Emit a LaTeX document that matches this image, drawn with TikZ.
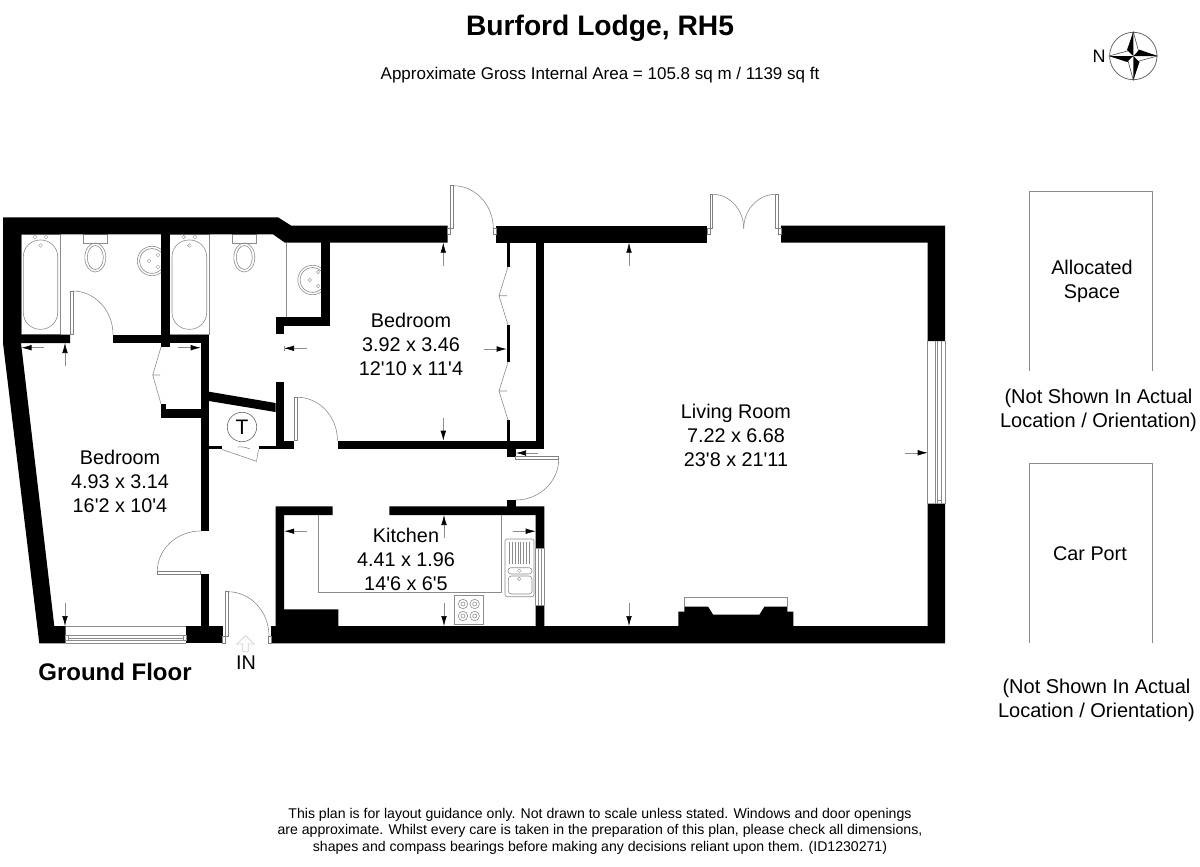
\documentclass[tikz,border=0pt]{standalone}
\usepackage{fontspec}
\setmainfont{Liberation Sans}[Ligatures=TeXOff]
\usetikzlibrary{arrows.meta,calc}
\tikzstyle{wall} = [fill=black]
\tikzstyle{fitting} = [draw=black!45, line width=0.3pt]
\tikzstyle{tap} = [draw=black!40, line width=0.2pt]
\tikzstyle{leaf} = [draw=black!50, fill=white, line width=0.3pt]
\tikzstyle{line} = [draw=black!45, line width=0.3pt, -{Latex[black,length=5pt,width=2.8pt]}]
\tikzstyle{room} = [align=center, font=\fontsize{9.9}{12}\selectfont]
\tikzstyle{note} = [align=center, font=\fontsize{10}{12.1}\selectfont]
\tikzstyle{small} = [align=center, font=\fontsize{7.05}{8.25}\selectfont]
\newcommand{\swingline}[3]{\path [fitting] (#1) .. controls ($(#1)!0.55!(#3)$) and ($(#2)!0.55!(#3)$) .. (#2);}

\begin{document}
\begin{tikzpicture}[x=0.5pt,y=-0.5pt]
\useasboundingbox (0,0) rectangle (1200,867);

\node [font=\fontsize{14.1}{16}\selectfont\bfseries] (title) at (600,28.5) {Burford Lodge, RH5};
\node [font=\fontsize{8.5}{10}\selectfont] (area) at (600,75) {Approximate Gross Internal Area = 105.8 sq m / 1139 sq ft};

\path [fitting, draw=black!60, line width=0.4pt] (1133.3,56) circle (23.7);
\node [font=\fontsize{9}{10}\selectfont] (north) at (1099,56) {N};
\path [fitting, fill=white, draw=black!70] (1133.3,32) -- (1138.5,50.8) -- (1157.3,56) -- (1138.5,61.2) -- (1133.3,80) -- (1128.1,61.2) -- (1109.3,56) -- (1128.1,50.8) -- cycle;
\path [fill=black] (1133.3,32) -- (1127,50) -- (1133.3,56) -- cycle;
\path [fill=black] (1157.3,56) -- (1139.5,49.7) -- (1133.3,56) -- cycle;
\path [fill=black] (1133.3,80) -- (1139.5,62) -- (1133.3,56) -- cycle;
\path [fill=black] (1109.3,56) -- (1127,62) -- (1133.3,56) -- cycle;

% baths, toilets, basins
\path [fitting] (21,234) rectangle (60.7,334.5);
\path [fitting, rounded corners=8.4pt] (23.3,240) rectangle (57.7,329.3);
\path [tap] (35,237) circle (1.8) (46,237) circle (1.8) (40.5,245.5) circle (1.8);
\path [fitting] (169.7,234) rectangle (209.5,334.5);
\path [fitting, rounded corners=8.4pt] (172,240) rectangle (206.7,329.3);
\path [tap] (183.7,237) circle (1.8) (195,237) circle (1.8) (189.3,245.5) circle (1.8);

\path [fitting] (83.7,234) rectangle (107.3,243);
\path [fitting] (95.3,257.5) ellipse (10.5 and 14.5) (95.3,257.5) ellipse (8 and 12);
\path [fitting] (232.7,234) rectangle (256.3,243);
\path [fitting] (244.3,257.5) ellipse (10.5 and 14.5) (244.3,257.5) ellipse (8 and 12);

\path [fitting] (152,261) circle (14.7) (152,261) circle (12.5);
\path [tap] (149,261) circle (1.8) (158,255) circle (1.8) (158,267) circle (1.8);
\path [fitting] (312.5,280) circle (14.7) (312.5,280) circle (12.5);
\path [tap] (309.7,280) circle (1.8) (318.3,272) circle (1.8) (318.3,286) circle (1.8);
\path [fitting] (286.7,243) -- (286.7,317.5);

% walls
\path [wall] (3,217.3) -- (278,217.3) -- (291,225.5) -- (447.7,225.5) -- (447.7,242.7) -- (285,242.7) -- (273,234.3) -- (21,234.3) -- (21,334.5) -- (70,334.5) -- (70,343) -- (21,343) -- (54.3,626) -- (65.6,626) -- (65.6,643.3) -- (39.3,643.3) -- (3,343) -- cycle;
\path [wall] (113,334.5) rectangle (209,343);
\path [wall] (160.7,234) rectangle (169.7,347);
\path [wall] (200.7,334.5) rectangle (209,531);
\path [wall] (200.7,574) rectangle (209,626);
\path [wall] (186,626) rectangle (222.5,643.3);
\path [wall] (161,404) rectangle (165.5,417.7);
\path [wall] (161,409) rectangle (201,417.7);
\path [wall] (209,391.7) -- (275.5,403) -- (275.5,412) -- (209,401) -- cycle;
\path [wall] (275.5,382) rectangle (284.2,449);
\path [wall] (275.5,440.7) rectangle (294.4,449);
\path [wall] (209,446) rectangle (222,449.3);
\path [wall] (258.5,446) rectangle (275.5,449.3);
\path [wall] (321,242) rectangle (330,326);
\path [wall] (275.5,317.3) rectangle (330,326);
\path [wall] (275.5,317.3) rectangle (284.2,334);

\path [wall] (496,225.7) rectangle (707.3,242.7);
\path [wall] (781,225.7) -- (945,225.7) -- (945,341) -- (927.7,341) -- (927.7,242.7) -- (781,242.7) -- cycle;
\path [wall] (927.7,503.5) -- (945,503.5) -- (945,643.3) -- (271,643.3) -- (271,626) -- (275.5,626) -- (275.5,506.3) -- (332.7,506.3) -- (332.7,515) -- (284.2,515) -- (284.2,609.3) -- (338.3,609.3) -- (338.3,626) -- (535.7,626) -- (535.7,605) -- (544.3,605) -- (544.3,626) -- (927.7,626) -- cycle;
\path [wall] (389.3,506.3) -- (544.3,506.3) -- (544.3,548) -- (535.7,548) -- (535.7,515) -- (389.3,515) -- cycle;
\path [wall] (507,500) rectangle (515.7,506.5);
\path [wall] (337.5,440.7) rectangle (544.3,449.3);
\path [wall] (535.7,242) rectangle (544.3,449);
\path [wall] (507,449) rectangle (515.7,457);
\path [wall] (506.7,242) rectangle (510,266.7);
\path [wall] (506.7,325) rectangle (510,362.3);
\path [wall] (506.7,420) rectangle (510,449);
\path [wall] (678.3,626) -- (678.3,611.7) -- (684.3,611.7) -- (684.3,606.5) -- (708,606.5) -- (713,614.5) -- (759.5,614.5) -- (764.5,606.5) -- (787.3,606.5) -- (787.3,611.7) -- (793.3,611.7) -- (793.3,626) -- cycle;
\path [fitting] (684.3,606.5) -- (684.3,597.3) -- (787.3,597.3) -- (787.3,606.5);

% doors
\path [leaf] (70,291) rectangle (72.8,334.5);
\swingline{72.8,291}{113,334.5}{113,291}
\path [leaf] (157.3,571.3) rectangle (200.7,574);
\swingline{200.7,531}{157.3,571.3}{157.3,531}
\path [leaf] (225.7,591.7) rectangle (228,636);
\path [leaf] (222.5,636) rectangle (225.7,643.3);
\swingline{228,591.7}{269,636}{269,591.7}
\path [leaf] (268.7,636) rectangle (271,643.3);
\path [leaf] (294.4,397.3) rectangle (297.5,440.7);
\swingline{297.5,397.3}{337.5,440.7}{337.5,397.3}
\path [leaf] (515.7,456.7) rectangle (558.7,459.2);
\swingline{558.7,459.2}{515.7,500}{558.7,500}
\path [leaf] (450.7,185.7) rectangle (453.3,228.5);
\path [leaf] (447.7,228.5) rectangle (450.7,234);
\swingline{453.3,185.7}{493.3,228.5}{493.3,185.7}
\path [leaf] (493.3,228.5) rectangle (496,234);
\path [leaf] (710,194.3) rectangle (712.7,228.5);
\path [leaf] (707.3,228.5) rectangle (710,234);
\path [leaf] (775.7,194.3) rectangle (778.3,228.5);
\path [leaf] (778.3,228.5) rectangle (781,234);
\swingline{712.7,194.3}{743.7,228.5}{743.7,194.3}
\swingline{775.7,194.3}{743.7,228.5}{743.7,194.3}
\path [fitting] (222,449.5) -- (256.5,461.3) -- (258.5,449.5);
\swingline{238,447}{250,449}{244,446}

% cupboards
\path [fitting] (161,347) -- (152.7,375) -- (161,404) (152.7,375) -- (160,375);
\path [fitting] (508,266.7) -- (499,295.7) -- (508,325) (499,295.7) -- (507,295.7);
\path [fitting] (508,362.3) -- (499,391) -- (508,420) (499,391) -- (507,391);

\node [circle, draw=black!60, line width=0.3pt, minimum size=14.7pt, inner sep=0pt, font=\fontsize{10.5}{12}\selectfont] (tank) at (242,427) {T};

% windows
\path [fitting] (65.6,626) -- (186,626) (65.6,635) -- (186,635) (68.7,638.3) -- (183.3,638.3) (68.7,640.5) -- (183.3,640.5) (65.6,643.3) -- (186,643.3);
\path [fitting] (65.6,635) rectangle (68.7,640.5) (183.3,635) rectangle (186,640.5);
\path [fitting] (927.7,341) -- (927.7,503.5) (935.3,341) -- (935.3,503.5) (937.5,341) -- (937.5,500) (941,341) -- (941,500) (945,341) -- (945,503.5);
\path [fitting] (937.5,500) -- (937.5,503.5) (941,500) -- (941,503.5) (937.5,500) -- (941,500);
\path [fitting] (535.7,548) -- (535.7,605) (538.5,548) -- (538.5,605) (541,548) -- (541,605) (544.3,548) -- (544.3,605) (535.7,548) -- (544.3,548) (535.7,605) -- (544.3,605);

% kitchen
\path [fitting] (318.7,515) -- (318.7,592.3) -- (501.3,592.3) -- (501.3,515);
\path [fitting, rounded corners=1pt] (505,539) rectangle (534,596.7);
\foreach \xpos in {509.5,512.3,...,531.5} {
\path [fitting] (\xpos,541.7) -- (\xpos,564);
}
\path [fitting, rounded corners=1.5pt] (508,567.7) rectangle (532,574);
\path [tap] (519.3,570.7) circle (1.8) (519.3,579) circle (1.8);
\path [fitting, rounded corners=1.5pt] (508.3,576) rectangle (532,594);
\path [fitting] (454.3,595.3) rectangle (483.3,624.3);
\foreach \xpos in {463,474.7} {
\foreach \ypos in {604,616} {
\path [fitting] (\xpos,\ypos) circle (4.7) (\xpos,\ypos) circle (2);
}
}

% dimension arrows
\path [line] (43.5,347.7) -- (21.5,347.7);
\path [line] (65,366) -- (65,343);
\path [line] (178.3,347.7) -- (200.7,347.7);
\path [line] (306.7,348.3) -- (284,348.3);
\path [fitting] (284,345.8) -- (284,350.8);
\path [line] (443.3,266) -- (443.3,242.7);
\path [line] (443.3,418) -- (443.3,440.7);
\path [line] (484.3,349) -- (506.7,349);
\path [line] (538.3,453) -- (516,453);
\path [line] (444,538) -- (444,515);
\path [line] (444,603.3) -- (444,626);
\path [line] (307,531.2) -- (284.2,531.2);
\path [line] (512.7,531.2) -- (535.7,531.2);
\path [line] (65,603.3) -- (65,626);
\path [line] (629,266) -- (629,242.7);
\path [line] (629,603.3) -- (629,626);
\path [line] (904.5,452.8) -- (927.7,452.8);

\node [room] (bed1) at (411,344) {Bedroom\\3.92 x 3.46\\12'10 x 11'4};
\node [room] (bed2) at (120,481) {Bedroom\\4.93 x 3.14\\16'2 x 10'4};
\node [room] (kitchen) at (406,559) {Kitchen\\4.41 x 1.96\\14'6 x 6'5};
\node [room] (living) at (736,435) {Living Room\\7.22 x 6.68\\23'8 x 21'11};

\path [draw=black!18, line width=0.35pt] (242.7,651.7) -- (242.7,644) -- (236.7,644) -- (245.7,635.7) -- (254.3,644) -- (248.3,644) -- (248.3,651.7) -- cycle;
\node [room] (in) at (246,663) {IN};
\node [font=\fontsize{12}{14}\selectfont\bfseries] (floor) at (115,672) {Ground Floor};

\path [fitting] (1029,371) -- (1029,191) -- (1152,191) -- (1152,371);
\node [room] (space) at (1092,281.5) {Allocated\\Space};
\node [note] (note1) at (1098.5,410) {(Not Shown In Actual\\Location / Orientation)};
\path [fitting] (1029,643) -- (1029,463) -- (1152,463) -- (1152,643);
\node [room] (carport) at (1090,554) {Car Port};
\node [note] (note2) at (1096.5,700) {(Not Shown In Actual\\Location / Orientation)};

\node [small] (terms) at (600,831) {This plan is for layout guidance only. Not drawn to scale unless stated. Windows and door openings\\are approximate. Whilst every care is taken in the preparation of this plan, please check all dimensions,\\shapes and compass bearings before making any decisions reliant upon them. (ID1230271)};
\end{tikzpicture}
\end{document}
